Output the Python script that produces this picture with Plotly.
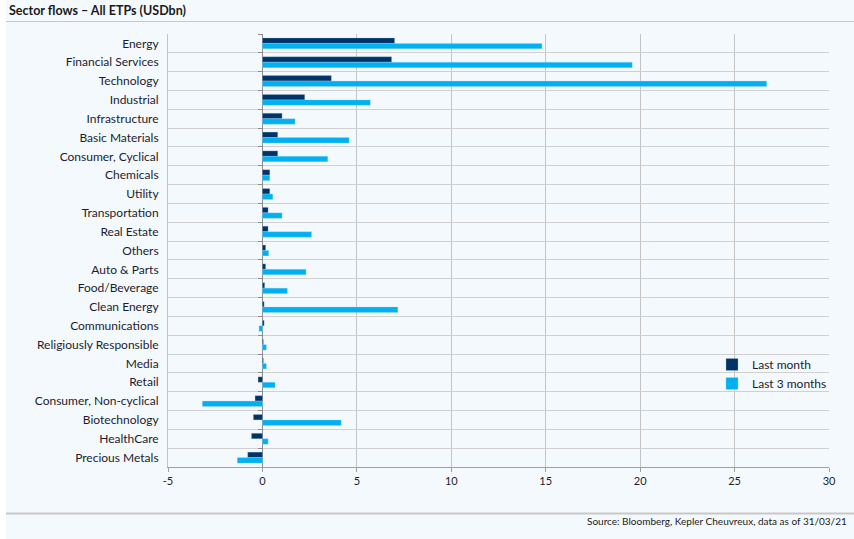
import plotly.graph_objects as go

categories = ["Energy", "Financial Services", "Technology", "Industrial", "Infrastructure",
              "Basic Materials", "Consumer, Cyclical", "Chemicals", "Utility", "Transportation",
              "Real Estate", "Others", "Auto & Parts", "Food/Beverage", "Clean Energy",
              "Communications", "Religiously Responsible", "Media", "Retail",
              "Consumer, Non-cyclical", "Biotechnology", "HealthCare", "Precious Metals"]
last_month = [7.0, 6.84, 3.65, 2.24, 1.04, 0.81, 0.81, 0.39, 0.39, 0.30, 0.30, 0.17, 0.17,
              0.12, 0.09, 0.09, 0.05, 0.05, -0.23, -0.39, -0.48, -0.58, -0.78]
last_3_months = [14.8, 19.58, 26.7, 5.71, 1.73, 4.59, 3.46, 0.39, 0.55, 1.04, 2.6, 0.33, 2.31,
                 1.32, 7.17, -0.18, 0.21, 0.21, 0.67, -3.18, 4.17, 0.30, -1.33]
x_ticks = [-5, 0, 5, 10, 15, 20, 25, 30]

DARK = "#003366"
LIGHT = "#00B0F0"
BG = "#F4F9FD"
FONT = "Lato"

# plot area in pixels
W, H = 854, 539
L, R, T, B = 168, 829, 34, 467
pw, ph = R - L, B - T


def px(x):
    return (x - L) / pw


def py(y):
    return (B - y) / ph


n = len(categories)
fig = go.Figure()
fig.add_trace(go.Bar(y=categories, x=last_month, orientation="h", name="Last month",
                     marker=dict(color=DARK, line=dict(color="rgba(170,200,230,0.6)", width=0.5))))
fig.add_trace(go.Bar(y=categories, x=last_3_months, orientation="h", name="Last 3 months",
                     marker=dict(color=LIGHT, line=dict(color="rgba(170,215,245,0.7)", width=0.5))))
# invisible helper for zero-line tick marks
fig.add_trace(go.Scatter(y=categories, x=[0] * n, yaxis="y2", mode="markers",
                         marker=dict(opacity=0), showlegend=False, hoverinfo="skip"))

fig.update_layout(
    width=W, height=H,
    margin=dict(l=L, r=W - R, t=T, b=H - B),
    paper_bgcolor=BG, plot_bgcolor=BG,
    font=dict(family=FONT, size=12, color="#1c1c2e"),
    barmode="group", bargap=0.42, bargroupgap=0.0,
    showlegend=True,
    legend=dict(x=px(712), y=py(350), xanchor="left", yanchor="top",
                bgcolor="rgba(0,0,0,0)", font=dict(size=12, color="#1c1c2e"),
                itemwidth=30, tracegroupgap=0),
    xaxis=dict(range=[-5, 30], tickvals=x_ticks, ticktext=[str(v) for v in x_ticks],
               showgrid=True, gridcolor="#c4c4c4", gridwidth=1,
               zeroline=True, zerolinecolor="#8c8c8c", zerolinewidth=1,
               showline=True, linecolor="#a0a0a0", linewidth=1,
               ticks="outside", ticklen=4, tickcolor="#a0a0a0",
               tickfont=dict(size=11, color="#1c1c2e")),
    yaxis=dict(type="category", categoryorder="array", categoryarray=categories,
               range=[n - 0.5, -0.5], tickson="boundaries",
               showgrid=True, gridcolor="#d0d0d0", gridwidth=1,
               showline=True, linecolor="#c4c4c4", ticks="", ticklabelstandoff=6,
               tickfont=dict(size=12, color="#1c1c2e")),
    yaxis2=dict(type="category", categoryorder="array", categoryarray=categories,
                range=[n - 0.5, -0.5], overlaying="y", anchor="free", position=5 / 35,
                side="left", tickson="boundaries", ticks="outside", ticklen=4,
                tickcolor="#8c8c8c", showticklabels=False, showgrid=False, showline=False,
                zeroline=False),
)

fig.add_annotation(text="<b>Sector flows – All ETPs (USDbn)</b>", xref="paper", yref="paper",
                   x=px(7), y=py(11), xanchor="left", yanchor="middle", showarrow=False,
                   font=dict(size=12.5, color="#1a1a1a", family=FONT))
fig.add_annotation(text="Source: Bloomberg, Kepler Cheuvreux, data as of 31/03/21",
                   xref="paper", yref="paper", x=px(849), y=py(521), xanchor="right",
                   yanchor="middle", showarrow=False, font=dict(size=10, color="#1a1a1a", family=FONT))

fig.add_shape(type="rect", xref="paper", yref="paper", x0=px(-2), x1=px(6), y0=py(-2), y1=py(541),
              fillcolor="white", line_width=0, layer="below")
fig.add_shape(type="line", xref="paper", yref="paper", x0=px(6), x1=px(856), y0=py(21.5), y1=py(21.5),
              line=dict(color="#c8c8c8", width=1))
fig.add_shape(type="line", xref="paper", yref="paper", x0=px(6), x1=px(856), y0=py(513.5), y1=py(513.5),
              line=dict(color="#c8c8c8", width=2))

fig.write_html("out.html", config={"displayModeBar": False},
               post_script="document.body.style.margin='0';document.body.style.padding='0';"
                           "document.body.style.background='" + BG + "';")
